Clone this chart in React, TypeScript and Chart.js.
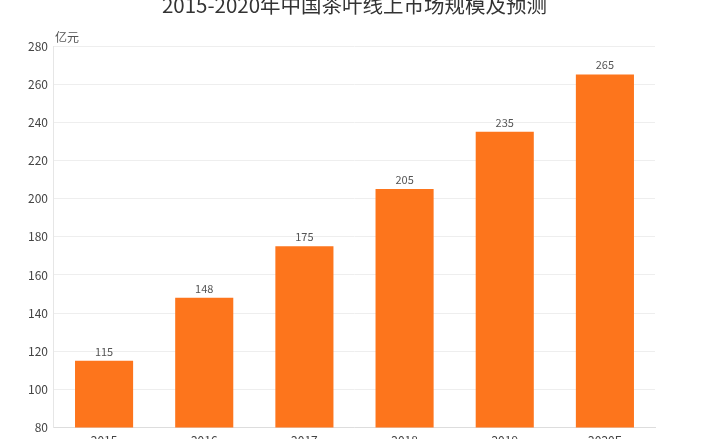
import { useEffect, useRef } from 'react';
import Chart from 'chart.js/auto';

const years = ['2015', '2016', '2017', '2018', '2019', '2020E'];
const marketSize = [115, 148, 175, 205, 235, 265];
const yMin = 80;
const yMax = 280;
const yStep = 20;
const chartTitle = '2015-2020年中国茶叶线上市场规模及预测';
const unitLabel = '亿元';

const FONT = '"Noto Sans CJK SC", "Noto Sans", sans-serif';

// title centred over the plot, value labels above bars, unit label on the y axis
const extrasPlugin = {
  id: 'extras',
  afterDatasetsDraw(chart: any) {
    const ctx = chart.ctx;
    const area = chart.chartArea;
    const meta = chart.getDatasetMeta(0);
    ctx.save();

    ctx.font = `20.5px ${FONT}`;
    ctx.fillStyle = '#333';
    ctx.textAlign = 'center';
    ctx.textBaseline = 'middle';
    ctx.fillText(chartTitle, (area.left + area.right) / 2, 17);

    ctx.font = `11px ${FONT}`;
    ctx.fillStyle = '#555';
    ctx.textBaseline = 'bottom';
    meta.data.forEach((bar: any, i: number) => {
      ctx.fillText(String(marketSize[i]), bar.x, bar.y - 4);
    });

    const y = chart.scales.y;
    ctx.font = `12px ${FONT}`;
    ctx.textAlign = 'left';
    ctx.fillText(unitLabel, y.right + 1, y.top - 3);
    ctx.restore();
  }
};

export default function App() {
  const chartRef = useRef<HTMLCanvasElement>(null);
  const chartInstance = useRef<Chart | null>(null);

  useEffect(() => {
    document.body.style.margin = '0';
    if (!chartRef.current) return;
    if (chartInstance.current) chartInstance.current.destroy();

    chartInstance.current = new Chart(chartRef.current, {
      type: 'bar',
      data: {
        labels: years,
        datasets: [
          {
            data: marketSize,
            backgroundColor: '#FD751C',
            barPercentage: 0.58,
            categoryPercentage: 1
          }
        ]
      },
      options: {
        responsive: false,
        animation: false,
        layout: { padding: { left: 22, right: 48, top: 58, bottom: 4 } },
        scales: {
          x: {
            grid: { display: false, drawTicks: false },
            border: { color: '#ddd' },
            ticks: { color: '#444', font: { family: FONT, size: 12 }, padding: 6 }
          },
          y: {
            min: yMin,
            max: yMax,
            grid: { color: '#eee', drawTicks: false },
            border: { color: '#e6e6e6' },
            ticks: {
              stepSize: yStep,
              color: '#444',
              font: { family: FONT, size: 12 },
              padding: 6
            }
          }
        },
        plugins: {
          legend: { display: false },
          tooltip: { enabled: false },
          title: { display: false }
        }
      },
      plugins: [extrasPlugin]
    });

    return () => {
      if (chartInstance.current) {
        chartInstance.current.destroy();
        chartInstance.current = null;
      }
    };
  }, []);

  return (
    <div style={{ width: 703, height: 439, overflow: 'hidden', position: 'relative', background: '#fff' }}>
      <canvas ref={chartRef} width={703} height={470} style={{ position: 'absolute', top: -12, left: 0 }} />
    </div>
  );
}
